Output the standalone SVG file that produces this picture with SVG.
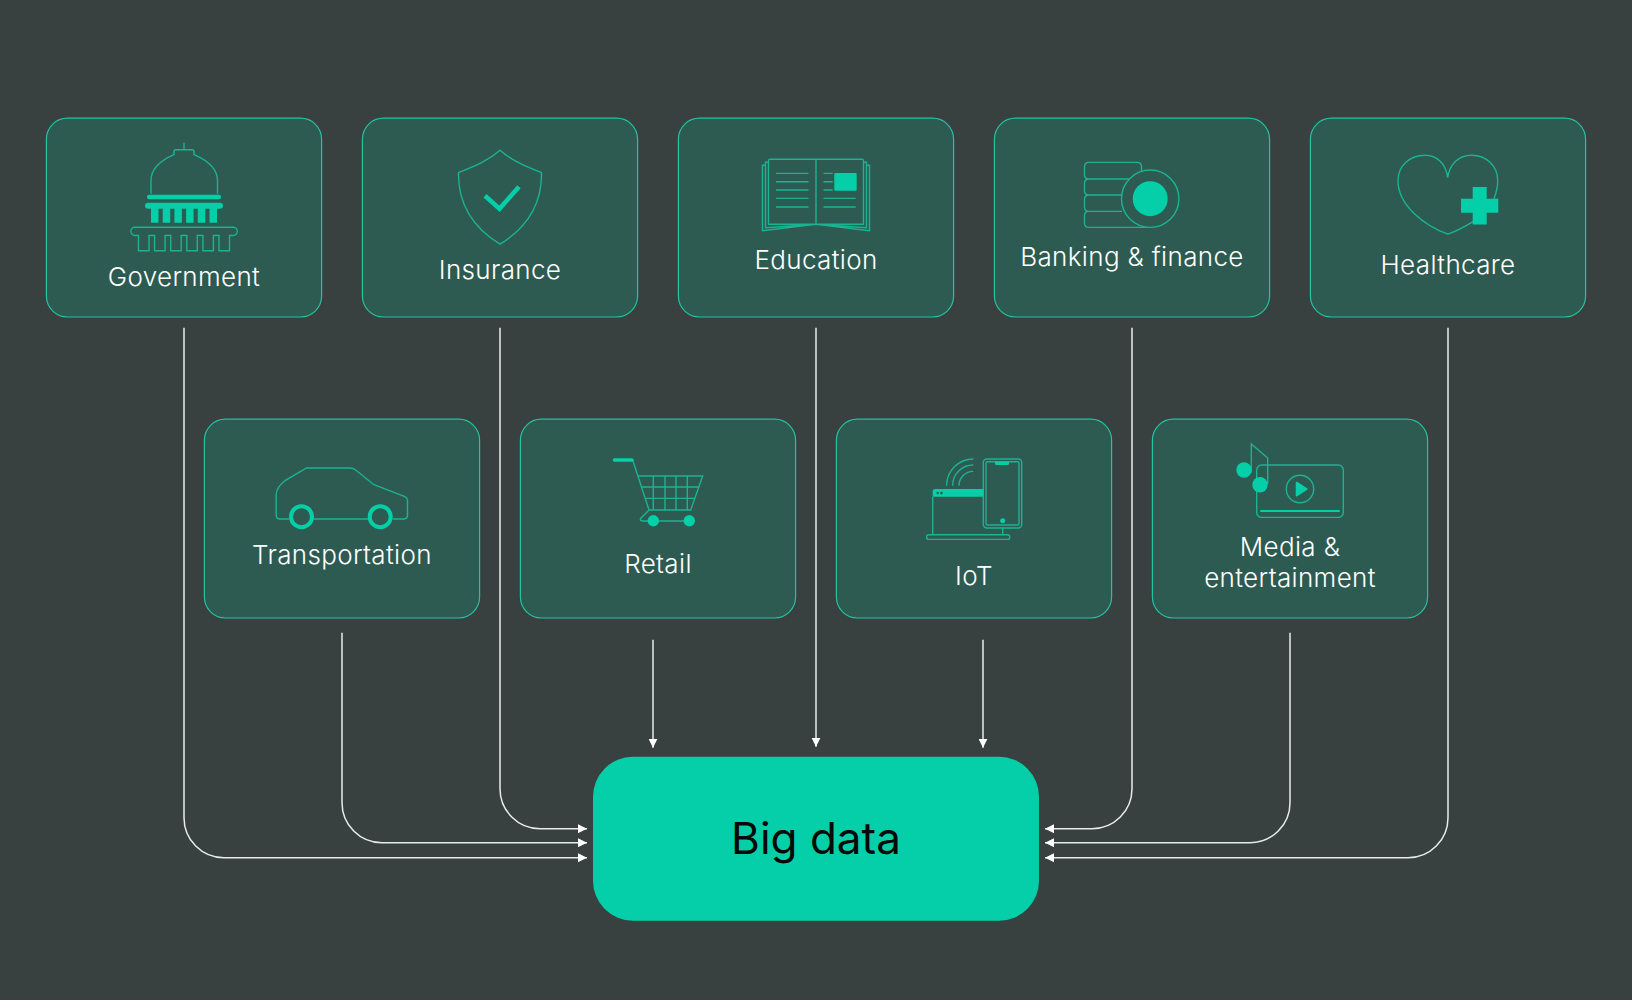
<svg xmlns="http://www.w3.org/2000/svg" width="1632" height="1000" viewBox="0 0 1632 1000">
<style>
.box{fill:#2d5b51;stroke:#22c4a2;stroke-width:1.2}
.lbl{font-family:Inter,"Liberation Sans",sans-serif;font-size:26px;font-weight:350;letter-spacing:.35px;fill:#fff;text-anchor:middle}
.ic{fill:none;stroke:#1cb392;stroke-width:1.4}
.fl{fill:#04cfa8}
.th{fill:none;stroke:#04cfa8}
.con{fill:none;stroke:#e9eceb;stroke-width:1.5;marker-end:url(#ah)}
</style>
<defs>
<marker id="ah" markerUnits="userSpaceOnUse" markerWidth="9" markerHeight="9" viewBox="0 0 8 8" refX="8" refY="4" orient="auto"><path d="M0 0L8 4L0 8Z" fill="#fff"/></marker>
</defs>
<rect width="1632" height="1000" fill="#384040"/>
<g transform="translate(0 0.7)">
<g id="connectors">
<path class="con" d="M184 327V817A40 40 0 0 0 224 857H587"/>
<path class="con" d="M342 632V802A40 40 0 0 0 382 842H587"/>
<path class="con" d="M500 327V788A40 40 0 0 0 540 828H587"/>
<path class="con" d="M653 639V747"/>
<path class="con" d="M816 327V746"/>
<path class="con" d="M983 639V747"/>
<path class="con" d="M1132 327V788A40 40 0 0 1 1092 828H1045"/>
<path class="con" d="M1290 632V802A40 40 0 0 1 1250 842H1045"/>
<path class="con" d="M1448 327V817A40 40 0 0 1 1408 857H1045"/>
</g>
<g id="government">
<rect class="box" x="46.400" y="117.500" width="275.200" height="198.800" rx="21"/>
<path class="ic" d="M184 142V149M151 193V180C151 168 160 160 174 154V151Q174 149 176 149H192Q194 149 194 151V154C208 160 217.500 168 217.500 180V193"/>
<rect class="fl" x="147" y="194" width="74" height="4.500" rx="2"/>
<rect class="fl" x="145" y="202" width="78" height="6" rx="3"/>
<path class="fl" d="M151 207h7.500v15h-7.500zM162.700 207h7.500v15h-7.500zM174.400 207h7.500v15h-7.500zM186.100 207h7.500v15h-7.500zM197.800 207h7.500v15h-7.500zM209.500 207h7.500v15h-7.500z"/>
<path class="ic" d="M135 226.500H233.200A4.150 4.150 0 0 1 233.200 234.800H229.500V250H219V234.800H213.400V250H202.900V234.800H197.300V250H186.800V234.800H181.200V250H170.700V234.800H165.100V250H154.600V234.800H149V250H138.500V234.800H135A4.150 4.150 0 0 1 135 226.500Z"/>
<text class="lbl" x="184" y="285">Government</text>
</g>
<g id="insurance">
<rect class="box" x="362.400" y="117.500" width="275.200" height="198.800" rx="21"/>
<path class="ic" d="M500 149.500C487 161 473 166 458.500 172C458 205 475 228 500 243.500C525 228 542 205 541.500 172C527 166 513 161 500 149.500Z"/>
<path class="th" stroke-width="4.500" d="M485 195L499.500 208L519 186"/>
<text class="lbl" x="500" y="278.500">Insurance</text>
</g>
<g id="education">
<rect class="box" x="678.400" y="117.500" width="275.200" height="198.800" rx="21"/>
<path class="ic" d="M768.500 223.500V160Q768.500 158.500 770 158.500H862Q863.500 158.500 863.500 160V223.500H768.500ZM816 158.500V223.500M768.500 161.500H765.500V227L816 223.500L866.500 227V161.500H863.500M765.500 164.500H762.500V230L816 223.500L869.500 230V164.500H866.500"/>
<path class="ic" d="M776 172.700H808.500M776 181H808.500M776 189.300H808.500M776 197.700H808.500M776 206.300H808.500M823.500 197.700H855.700M823.500 206.300H855.700M823.500 172.700H832.700M823.500 181H832.700M823.500 189.300H832.700"/>
<rect class="fl" x="834.300" y="172.300" width="22.400" height="17.700" rx="1"/>
<text class="lbl" x="816" y="268.500">Education</text>
</g>
<g id="banking">
<rect class="box" x="994.400" y="117.500" width="275.200" height="198.800" rx="21"/>
<path class="ic" d="M1141.500 170V166Q1141.500 161.700 1137 161.700H1089Q1084.500 161.700 1084.500 166V174Q1084.500 178.300 1089 178.300H1130M1089 178.300Q1084.500 178.300 1084.500 182.500V190Q1084.500 194.300 1089 194.300H1122M1089 194.300Q1084.500 194.300 1084.500 198.500V206.500Q1084.500 210.700 1089 210.700H1122M1089 210.700Q1084.500 210.700 1084.500 215V222.500Q1084.500 226.700 1089 226.700H1150"/>
<circle cx="1150.200" cy="198" r="28.700" fill="#2d5b51" stroke="#1cb392" stroke-width="1.400"/>
<circle class="fl" cx="1150.200" cy="198" r="17.500"/>
<text class="lbl" x="1132" y="265">Banking &amp; finance</text>
</g>
<g id="healthcare">
<rect class="box" x="1310.400" y="117.500" width="275.200" height="198.800" rx="21"/>
<path class="ic" d="M1473 221C1465 226 1455 231 1448 233.500C1425 225 1398 205 1398 180C1398 165 1410 154.500 1425 154.500C1437 154.500 1446 163 1447.700 177C1449.500 163 1459 154.500 1471.700 154.500C1486 154.500 1497.700 165 1497.700 180C1497.700 187 1496 193 1494 198"/>
<path class="fl" d="M1472.700 186.300H1486.700V198H1498.300V212H1486.700V223.700H1472.700V212H1461V198H1472.700Z"/>
<text class="lbl" x="1448" y="273">Healthcare</text>
</g>
<g id="transportation">
<rect class="box" x="204.400" y="418.500" width="275.200" height="198.800" rx="21"/>
<path class="ic" d="M289 518.300H280Q276.200 518.300 276.200 514V493.300Q277 486 285 480L306.600 467.300H350Q353 467.300 356 469.500L373.900 484L405 496Q407.500 497.500 407.500 500V514Q407.500 518.300 403.500 518.300H392.800M313.500 518.300H368"/>
<circle class="th" stroke-width="4" cx="301.500" cy="516" r="10.500"/>
<circle class="th" stroke-width="4" cx="380.200" cy="516" r="10.500"/>
<text class="lbl" x="342" y="563">Transportation</text>
</g>
<g id="retail">
<rect class="box" x="520.400" y="418.500" width="275.200" height="198.800" rx="21"/>
<path class="ic" d="M632.700 459.300L649 509.300H690.700L702.700 475.300H637.700M641.300 486.300H698.700M645 497.700H695M653.300 475.300V509.300M665 475.300V509.300M676 475.300V509.300M687.300 475.300V509.300M649 509.300L640.700 517.700Q639.500 520 642.700 520.300H689"/>
<path class="th" stroke-width="3.500" stroke-linecap="round" d="M614.500 459.300H632"/>
<circle class="fl" cx="653.300" cy="520" r="5.700"/>
<circle class="fl" cx="689.300" cy="520" r="5.700"/>
<text class="lbl" x="658" y="572">Retail</text>
</g>
<g id="iot">
<rect class="box" x="836.400" y="418.500" width="275.200" height="198.800" rx="21"/>
<rect class="ic" x="983.300" y="458.300" width="38.400" height="69" rx="3.500"/>
<rect class="ic" x="986" y="461" width="33" height="63.300" rx="1.500"/>
<path class="fl" d="M995 461H1009V463Q1009 464.300 1007.500 464.300H996.500Q995 464.300 995 463Z"/>
<circle class="fl" cx="1002.700" cy="520" r="2.500"/>
<path class="fl" d="M932.700 496V490.500Q932.700 488.300 935 488.300H983.300V496Z"/>
<circle cx="937.700" cy="492.300" r="1.300" fill="#2d5b51"/>
<circle cx="941.500" cy="492.300" r="1.300" fill="#2d5b51"/>
<path class="ic" d="M932.700 496V534M1002.700 527.300V534"/>
<rect class="ic" x="926.700" y="534" width="83" height="4.700" rx="2"/>
<path class="ic" d="M946.600 485A26.700 26.700 0 0 1 973.300 458.300M952.600 485A20.700 20.700 0 0 1 973.300 464.300M959 485A14.300 14.300 0 0 1 973.300 470.700"/>
<text class="lbl" x="974" y="584.500">IoT</text>
</g>
<g id="media">
<rect class="box" x="1152.400" y="418.500" width="275.200" height="198.800" rx="21"/>
<rect class="ic" x="1256.700" y="464.300" width="86.600" height="52.400" rx="5"/>
<path class="th" stroke-width="2" stroke-linecap="round" d="M1261 510.300H1339"/>
<circle class="ic" cx="1300" cy="488.300" r="13.700"/>
<path class="fl" stroke="#04cfa8" stroke-width="2" stroke-linejoin="round" d="M1296.700 482L1306.700 488.300L1296.700 494.700Z"/>
<path class="ic" d="M1251.300 471.700V443.300L1267.700 457.300V483.300"/>
<circle class="fl" cx="1244" cy="469.300" r="7.700"/>
<circle class="fl" cx="1260" cy="484" r="7.700"/>
<text class="lbl" x="1290" y="555">Media &amp;</text>
<text class="lbl" x="1290" y="586.500">entertainment</text>
</g>
<g id="bigdata">
<rect class="fl" x="593" y="756" width="446" height="164" rx="40"/>
<text x="816" y="853.500" font-family="Inter,'Liberation Sans',sans-serif" font-size="44" fill="#050a08" text-anchor="middle">Big data</text>
</g>
</g>
</svg>
